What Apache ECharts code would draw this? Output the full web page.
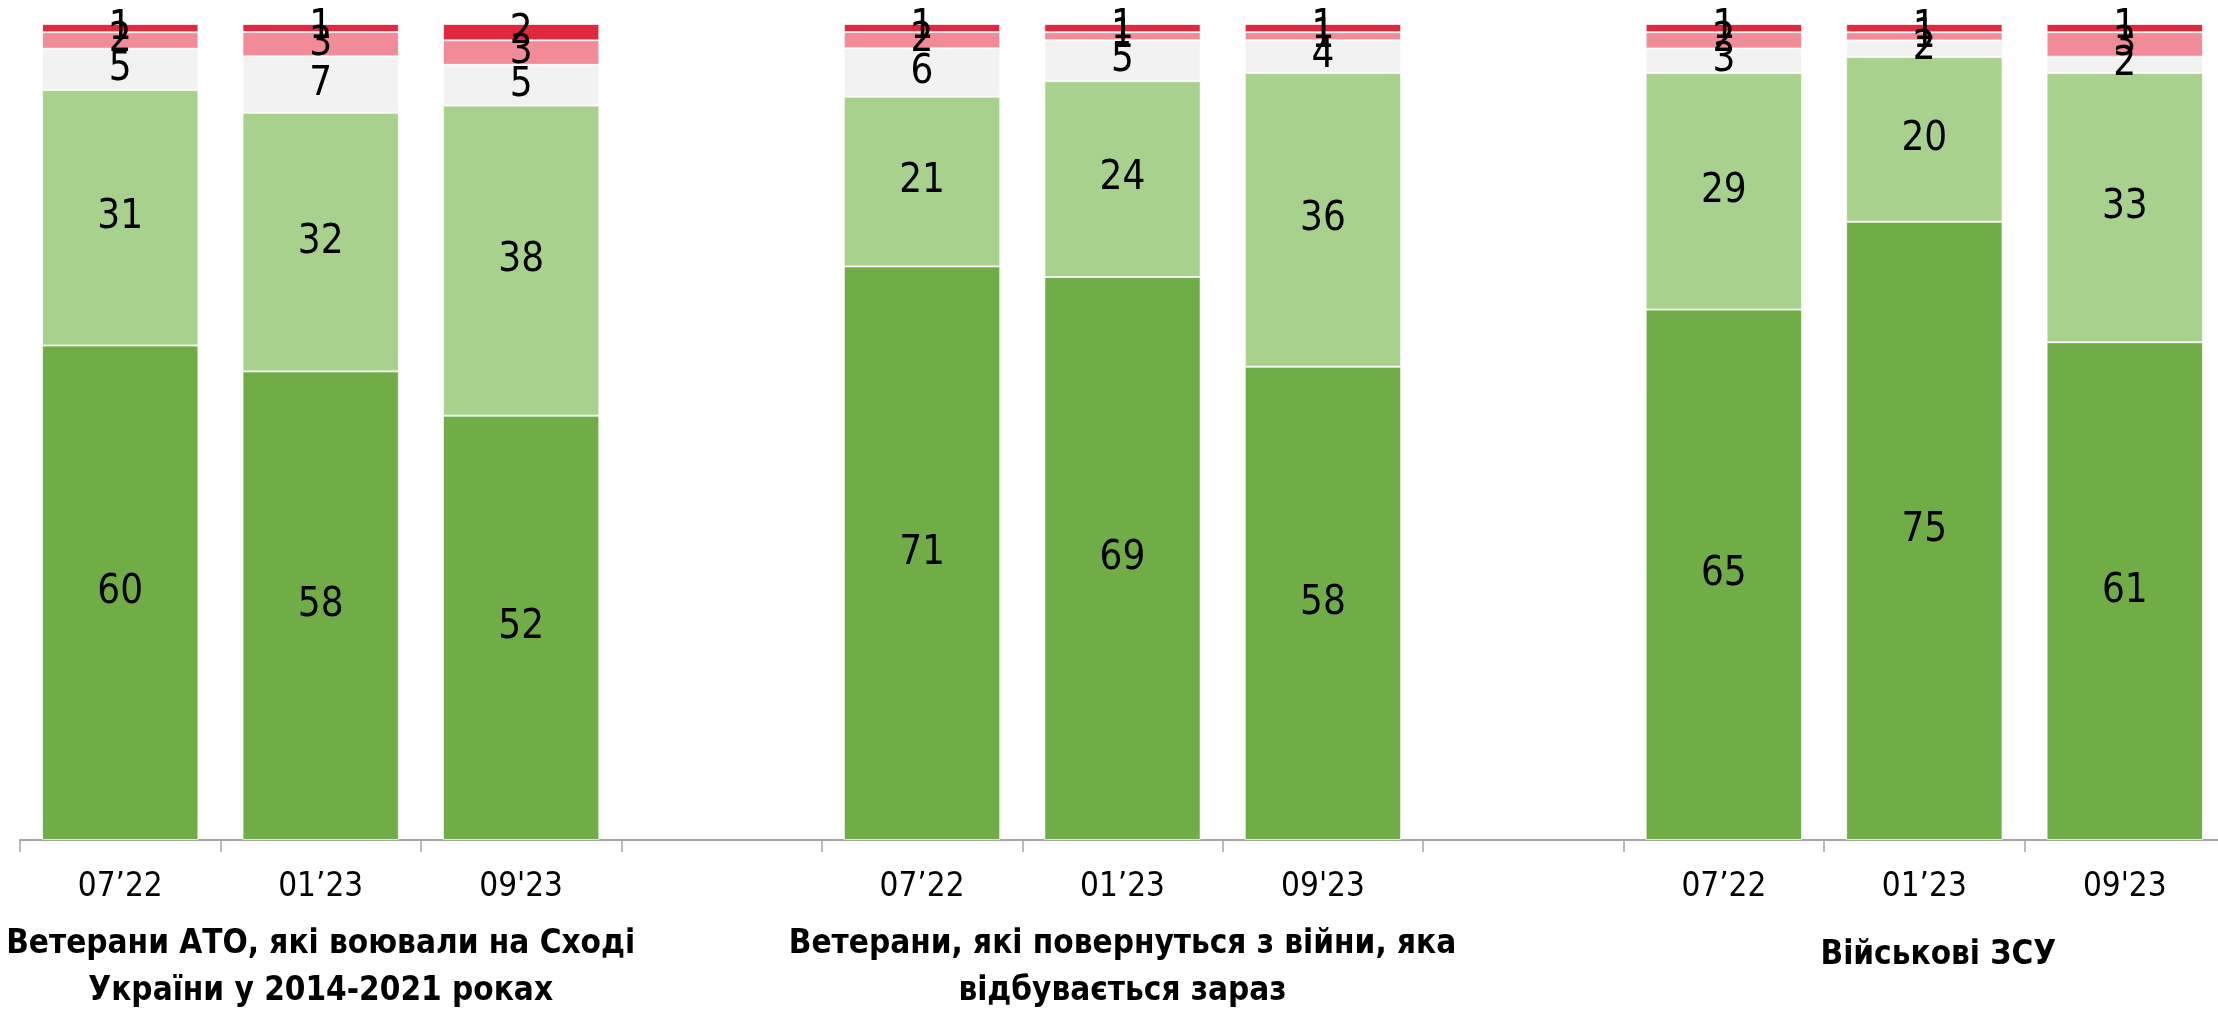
<!DOCTYPE html>
<html>
<head>
<meta charset="utf-8">
<script src="https://cdn.jsdelivr.net/npm/echarts@6/dist/echarts.min.js"></script>
<style>
html,body{margin:0;padding:0;background:#fff;}
#chart{width:2218px;height:1017px;}
</style>
</head>
<body>
<div id="chart"></div>
<script>
const categories = ['07’22', '01’23', "09'23", '', '07’22', '01’23', "09'23", '', '07’22', '01’23', "09'23"];
const groupTitles = ['', 'Ветерани АТО, які воювали на Сході\nУкраїни у 2014-2021 роках', '', '', '', 'Ветерани, які повернуться з війни, яка\nвідбувається зараз', '', '', '', 'Військові ЗСУ', ''];

const darkGreen  = [60, 58, 52, null, 71, 69, 58, null, 65, 75, 61];
const lightGreen = [31, 32, 38, null, 21, 24, 36, null, 29, 20, 33];
const lightGray  = [5, 7, 5, null, 6, 5, 4, null, 3, 2, 2];
const pink       = [2, 3, 3, null, 2, 1, 1, null, 2, 1, 3];
const red        = [1, 1, 2, null, 1, 1, 1, null, 1, 1, 1];

const seriesValues = [darkGreen, lightGreen, lightGray, pink, red];
const seriesNames = ['s1', 's2', 's3', 's4', 's5'];
const colors = ['#70AD47', '#A9D18E', '#F2F2F2', '#F08B97', '#E0293F'];

const totals = categories.map((_, i) => seriesValues.reduce((s, arr) => s + (arr[i] || 0), 0));

const FONT = '"Liberation Sans Narrow", "Arial Narrow", "DejaVu Sans Condensed", sans-serif';

const series = seriesValues.map((arr, k) => ({
  name: seriesNames[k],
  type: 'bar',
  stack: 'total',
  barCategoryGap: '22%',
  itemStyle: { color: colors[k], borderColor: 'rgba(255,255,255,0.7)', borderWidth: 1 },
  label: {
    show: true,
    position: 'inside',
    color: '#000',
    fontFamily: FONT,
    fontSize: 40,
    formatter: p => (p.data && p.data.raw != null) ? String(p.data.raw) : ''
  },
  data: arr.map((v, i) => v == null ? null : { value: v / totals[i] * 100, raw: v })
}));

const chart = echarts.init(document.getElementById('chart'));
chart.setOption({
  animation: false,
  grid: { left: 20, top: 24, width: 2205, bottom: 177, containLabel: false, outerBoundsMode: 'none' },
  xAxis: [
    {
      type: 'category',
      data: categories,
      axisLine: { lineStyle: { color: '#A6A6A6', width: 2 } },
      axisTick: { show: true, length: 12, lineStyle: { color: '#A6A6A6', width: 1.5 } },
      axisLabel: { interval: 0, margin: 29, color: '#000', fontFamily: FONT, fontSize: 33, lineHeight: 36 }
    },
    {
      type: 'category',
      data: groupTitles,
      position: 'bottom',
      axisLine: { show: false },
      axisTick: { show: false },
      axisLabel: {
        interval: 0, margin: 81, color: '#000', fontFamily: FONT, fontSize: 33, fontWeight: 'bold', lineHeight: 47,
        formatter: v => v.indexOf('\n') < 0 && v ? '{s|' + v + '}' : v,
        rich: { s: { fontFamily: FONT, fontSize: 33, fontWeight: 'bold', color: '#000', lineHeight: 47, padding: [22, 0, 0, 28] } }
      }
    }
  ],
  yAxis: { type: 'value', min: 0, max: 100, show: false, splitLine: { show: false } },
  series: series
});
</script>
</body>
</html>
